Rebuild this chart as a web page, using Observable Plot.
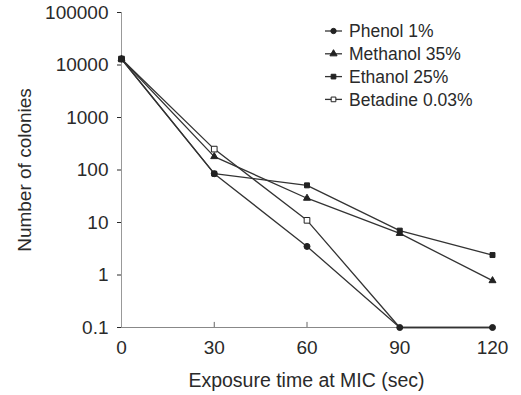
<!DOCTYPE html>
<html>
<head>
<meta charset="utf-8">
<script src="https://cdn.jsdelivr.net/npm/d3@7"></script>
<script src="https://cdn.jsdelivr.net/npm/@observablehq/plot@0.6"></script>
<style>
  html, body { margin: 0; padding: 0; background: #fff; }
  svg { font-family: "Liberation Sans", Arial, sans-serif; }
</style>
</head>
<body>
<div id="chart"></div>
<script>
const times = [0, 30, 60, 90, 120];
const seriesNames = ["Phenol 1%", "Methanol 35%", "Ethanol 25%", "Betadine 0.03%"];
const phenol   = [13000, 85, 3.5, 0.1, 0.1];
const methanol = [13000, 180, 29, 6.2, 0.78];
const ethanol  = [13000, 85, 51, 7, 2.4];
const betadine = [13000, 250, 11, 0.1, 0.1];
const yTicks = [0.1, 1, 10, 100, 1000, 10000, 100000];
const xTicks = [0, 30, 60, 90, 120];

const symbols = ["circle", "triangle", "square", "square"];
const fills = ["#222", "#222", "#222", "#fff"];
const sizes = [3, 2.6, 2.8, 3.2];
const allValues = [phenol, methanol, ethanol, betadine];

const rows = [];
seriesNames.forEach((name, i) => {
  times.forEach((t, j) => rows.push({series: name, idx: i, j, t, v: allValues[i][j]}));
});

const ink = "#2a2a2a";
const marks = [
  Plot.axisY({ticks: yTicks, tickFormat: d => String(d), tickSize: 4, tickPadding: 9, fontSize: 19, color: ink, label: null}),
  Plot.axisX({ticks: xTicks, tickSize: 0, tickPadding: 13, fontSize: 19, color: ink, label: null}),
  Plot.ruleX([0], {stroke: "#999", strokeWidth: 1}),
  Plot.ruleY([0.1], {stroke: "#888", strokeWidth: 1}),
  Plot.ruleX([30, 60], {x: d => d, y1: 0.1, y2: 0.125, stroke: "#666"}),
  Plot.line(rows, {x: "t", y: "v", z: "series", stroke: "#333", strokeWidth: 1.3})
];
[3, 0, 1, 2].forEach(i => {
  // betadine points hidden where they coincide with phenol's (as in the original)
  const pts = rows.filter(r => r.idx === i && !(i === 3 && r.j > 0 && r.v === phenol[r.j]));
  marks.push(Plot.dot(pts, {
    x: "t", y: "v", symbol: symbols[i], r: sizes[i],
    fill: fills[i], stroke: "#222", strokeWidth: 1
  }));
});

const plot = Plot.plot({
  width: 521, height: 395,
  marginLeft: 121, marginRight: 29, marginTop: 12, marginBottom: 68,
  style: {fontFamily: "'Liberation Sans', Arial, sans-serif", background: "#fff"},
  x: {domain: [0, 120]},
  y: {type: "log", domain: [0.1, 100000]},
  marks
});

const svg = d3.select(plot);
svg.append("text")
  .attr("x", (121 + 492) / 2).attr("y", 387)
  .attr("text-anchor", "middle").attr("font-size", 19.5).attr("fill", ink)
  .text("Exposure time at MIC (sec)");
svg.append("text")
  .attr("transform", "translate(31,170) rotate(-90)")
  .attr("text-anchor", "middle").attr("font-size", 19).attr("fill", ink)
  .text("Number of colonies");

const lg = svg.append("g");
const symGen = [d3.symbolCircle, d3.symbolTriangle, d3.symbolSquare, d3.symbolSquare];
seriesNames.forEach((name, i) => {
  const y = 31 + i * 22.8;
  lg.append("line").attr("x1", 325).attr("x2", 342).attr("y1", y).attr("y2", y)
    .attr("stroke", "#333").attr("stroke-width", 1.3);
  lg.append("path").attr("d", d3.symbol(symGen[i], 22)())
    .attr("transform", `translate(333.5,${y})`)
    .attr("fill", fills[i]).attr("stroke", "#222");
  lg.append("text").attr("x", 349).attr("y", y).attr("dy", "0.36em")
    .attr("text-anchor", "start")
    .attr("font-size", 17.5).attr("fill", ink).text(name);
});

document.getElementById("chart").append(plot);
</script>
</body>
</html>
